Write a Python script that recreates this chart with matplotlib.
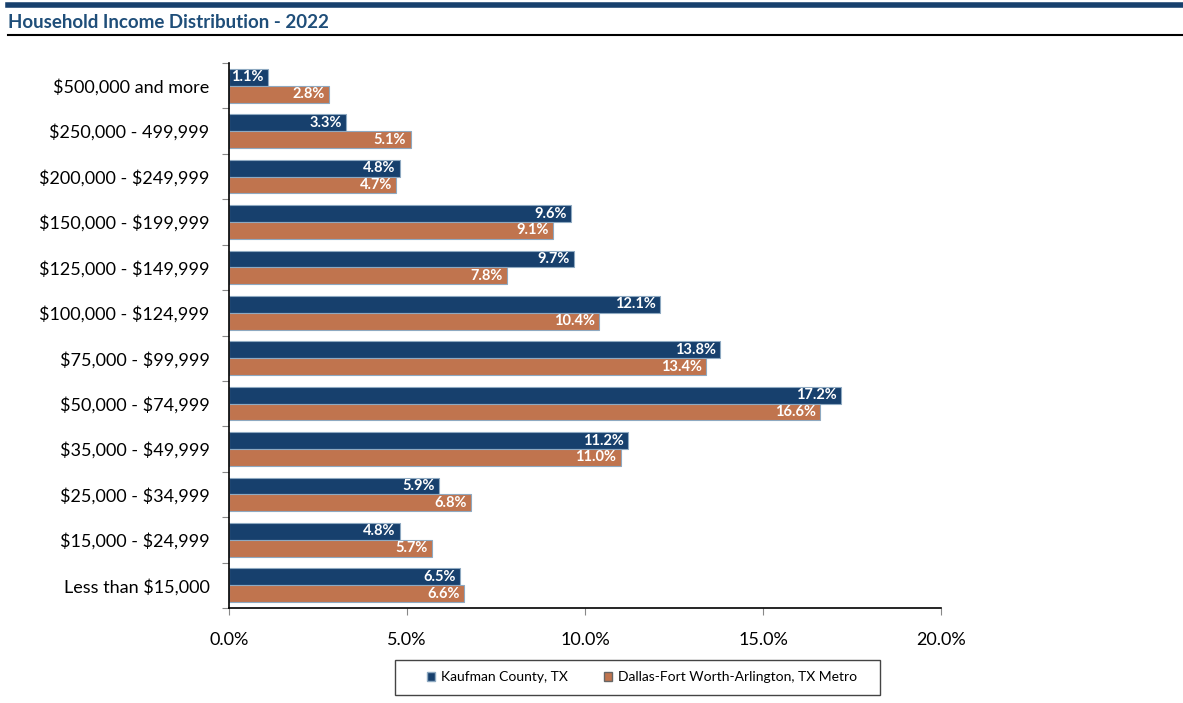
import matplotlib
matplotlib.use("Agg")
import matplotlib.pyplot as plt
from matplotlib.lines import Line2D
from matplotlib.patches import Patch, Rectangle
import numpy as np

plt.rcParams['font.family'] = ['Lato', 'DejaVu Sans']

TITLE = "Household Income Distribution - 2022"
CATEGORIES = [
    "Less than $15,000", "$15,000 - $24,999", "$25,000 - $34,999",
    "$35,000 - $49,999", "$50,000 - $74,999", "$75,000 - $99,999",
    "$100,000 - $124,999", "$125,000 - $149,999", "$150,000 - $199,999",
    "$200,000 - $249,999", "$250,000 - 499,999", "$500,000 and more",
]
KAUFMAN = [6.5, 4.8, 5.9, 11.2, 17.2, 13.8, 12.1, 9.7, 9.6, 4.8, 3.3, 1.1]
DFW = [6.6, 5.7, 6.8, 11.0, 16.6, 13.4, 10.4, 7.8, 9.1, 4.7, 5.1, 2.8]
SERIES = ["Kaufman County, TX", "Dallas-Fort Worth-Arlington, TX Metro"]
X_TICKS = [0, 5, 10, 15, 20]

BLUE = "#17406D"
ORANGE = "#C0744E"
NAVY_TEXT = "#1F4E79"

W, H = 1183, 703
fig = plt.figure(figsize=(W / 100, H / 100), dpi=100)

# header band, title and rule
fig.add_artist(Line2D([8 / W, 1], [1 - 5 / H] * 2, color=BLUE, lw=4))
fig.text(8 / W, 1 - 22 / H, TITLE, fontsize=13.5, fontweight="bold",
         color=NAVY_TEXT, va="center", ha="left")
fig.add_artist(Line2D([8 / W, 1], [1 - 35 / H] * 2, color="black", lw=1.5))

ax = fig.add_axes([229 / W, 1 - 608 / H, 712 / W, 545 / H])
y = np.arange(len(CATEGORIES))
h = 0.37
ax.barh(y + h / 2, KAUFMAN, height=h, color=BLUE, edgecolor="#8EA9C1", lw=0.8)
ax.barh(y - h / 2, DFW, height=h, color=ORANGE, edgecolor="#8EA9C1", lw=0.8)

for yi, v in zip(y, KAUFMAN):
    ax.text(v - 0.12, yi + h / 2, f"{v:.1f}%", color="white", fontsize=10.5,
            fontweight="bold", ha="right", va="center")
for yi, v in zip(y, DFW):
    ax.text(v - 0.12, yi - h / 2, f"{v:.1f}%", color="white", fontsize=10.5,
            fontweight="bold", ha="right", va="center")

ax.set_xlim(0, 20)
ax.set_ylim(-0.5, len(CATEGORIES) - 0.5)
ax.set_xticks(X_TICKS)
ax.set_xticklabels([f"{t:.1f}%" for t in X_TICKS], fontsize=13)
ax.set_yticks(np.arange(len(CATEGORIES) + 1) - 0.5)
ax.set_yticklabels([])
ax.set_yticks(y, minor=True)
ax.set_yticklabels([c.replace("$", r"\$") for c in CATEGORIES], minor=True,
                   fontsize=13)
ax.tick_params(axis="y", which="minor", length=0, pad=14)
ax.tick_params(axis="y", which="major", length=5, direction="out", color="#888888")
ax.tick_params(axis="x", length=5, direction="out", color="#888888", pad=12)
for s in ["top", "right"]:
    ax.spines[s].set_visible(False)
ax.spines["left"].set_linewidth(1.2)
ax.spines["bottom"].set_linewidth(1.2)

# legend with a hand-drawn frame
fig.add_artist(Rectangle((395 / W, 1 - 695 / H), 485 / W, 35 / H,
                         transform=fig.transFigure, fill=False,
                         edgecolor="#444444", lw=1.0))
handles = [Patch(facecolor=BLUE, edgecolor="#8EA9C1"),
           Patch(facecolor=ORANGE, edgecolor="#666666")]
fig.legend(handles, SERIES, loc="center", ncol=2,
           bbox_to_anchor=(642 / W, 1 - 677 / H), fontsize=10,
           handlelength=0.6, handleheight=0.6, handletextpad=0.4,
           columnspacing=2.6, frameon=False)

fig.savefig("out.png", dpi=100)
